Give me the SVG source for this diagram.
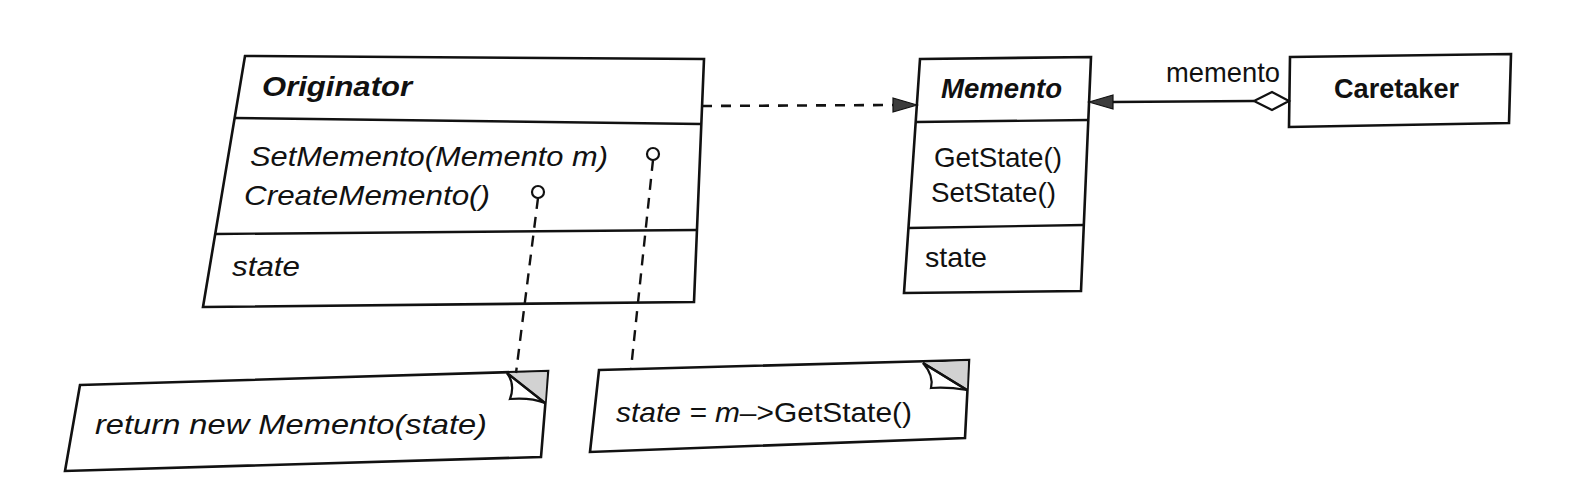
<svg xmlns="http://www.w3.org/2000/svg" width="1578" height="502" viewBox="0 0 1578 502">
<defs>
<style>
.box{fill:#fff;stroke:#111;stroke-width:2.6;stroke-linejoin:miter}
.div{stroke:#111;stroke-width:2.4;fill:none}
.t{font-family:"Liberation Sans",Arial,Helvetica,sans-serif;font-size:28px;fill:#111}
.b{font-weight:bold}
.i{font-style:italic}
.dash{stroke:#111;stroke-width:2.6;fill:none;stroke-dasharray:10 9}
.vdash{stroke:#111;stroke-width:2.4;fill:none;stroke-dasharray:11 8}
.solid{stroke:#111;stroke-width:2.6;fill:none}
.head{fill:#3c3c3c;stroke:#111;stroke-width:1.2;stroke-linejoin:miter}
.fold{fill:#d2d2d2;stroke:none}
.flap{fill:#fff;stroke:#111;stroke-width:2.2}
.lol{fill:#fff;stroke:#111;stroke-width:2.2}
</style>
</defs>
<rect width="1578" height="502" fill="#fff"/>

<g id="originator">
<polygon class="box" points="245,56 704,59 694,302 203,307"/>
<line class="div" x1="234" y1="118" x2="701" y2="124"/>
<line class="div" x1="215" y1="234" x2="697" y2="230"/>
<text class="t b i" x="262" y="96" textLength="150" lengthAdjust="spacingAndGlyphs">Originator</text>
<text class="t i" x="250" y="166" textLength="358" lengthAdjust="spacingAndGlyphs">SetMemento(Memento m)</text>
<text class="t i" x="244" y="205" textLength="246" lengthAdjust="spacingAndGlyphs">CreateMemento()</text>
<text class="t i" x="232" y="276" textLength="68" lengthAdjust="spacingAndGlyphs">state</text>
</g>

<g id="memento">
<polygon class="box" points="920,59 1091,57 1081,291 904,293"/>
<line class="div" x1="916" y1="122" x2="1088" y2="120"/>
<line class="div" x1="908" y1="228" x2="1084" y2="225"/>
<text class="t b i" x="941" y="98" textLength="121" lengthAdjust="spacingAndGlyphs">Memento</text>
<text class="t" x="934" y="167" textLength="128" lengthAdjust="spacingAndGlyphs">GetState()</text>
<text class="t" x="931" y="202" textLength="125" lengthAdjust="spacingAndGlyphs">SetState()</text>
<text class="t" x="925" y="267" textLength="62" lengthAdjust="spacingAndGlyphs">state</text>
</g>

<g id="caretaker">
<polygon class="box" points="1290,57 1511,54 1509,123 1289,127"/>
<text class="t b" x="1334" y="98" textLength="125" lengthAdjust="spacingAndGlyphs">Caretaker</text>
</g>

<g id="note-create">
<polygon class="box" points="80,385 548,371 541,457 65,471"/>
<polygon class="fold" points="507,373 547,372 545,403"/>
<path class="flap" d="M507,373 C513,381 513,391 510,399 C523,398 535,399 545,403 Z"/>
<line class="div" x1="507" y1="373" x2="545" y2="403"/>
<text class="t i" x="95" y="434" textLength="392" lengthAdjust="spacingAndGlyphs">return new Memento(state)</text>
</g>

<g id="note-set">
<polygon class="box" points="599,370 969,360 965,438 590,452"/>
<polygon class="fold" points="923,363 968,361 967,390"/>
<path class="flap" d="M923,363 C930,371 933,380 931,388 C943,387 955,388 967,390 Z"/>
<line class="div" x1="923" y1="363" x2="967" y2="390"/>
<text class="t" x="616" y="422" textLength="296" lengthAdjust="spacingAndGlyphs"><tspan class="i">state = m</tspan>–&gt;GetState()</text>
</g>

<g id="connectors">
<line class="dash" x1="702" y1="106" x2="893" y2="105"/>
<polygon class="head" points="917,105 893,98 893,112"/>
<line class="solid" x1="1254" y1="101" x2="1112" y2="102"/>
<polygon class="head" points="1089,102 1113,95 1113,109"/>
<polygon class="lol" points="1289,101 1272,92 1254,101 1272,110"/>
<text class="t" x="1166" y="82" font-size="27" textLength="114" lengthAdjust="spacingAndGlyphs">memento</text>
<circle class="lol" cx="653" cy="154" r="6"/>
<line class="vdash" x1="653" y1="160" x2="631" y2="369"/>
<circle class="lol" cx="538" cy="192" r="6"/>
<line class="vdash" x1="538" y1="198" x2="516" y2="373"/>
</g>
</svg>
